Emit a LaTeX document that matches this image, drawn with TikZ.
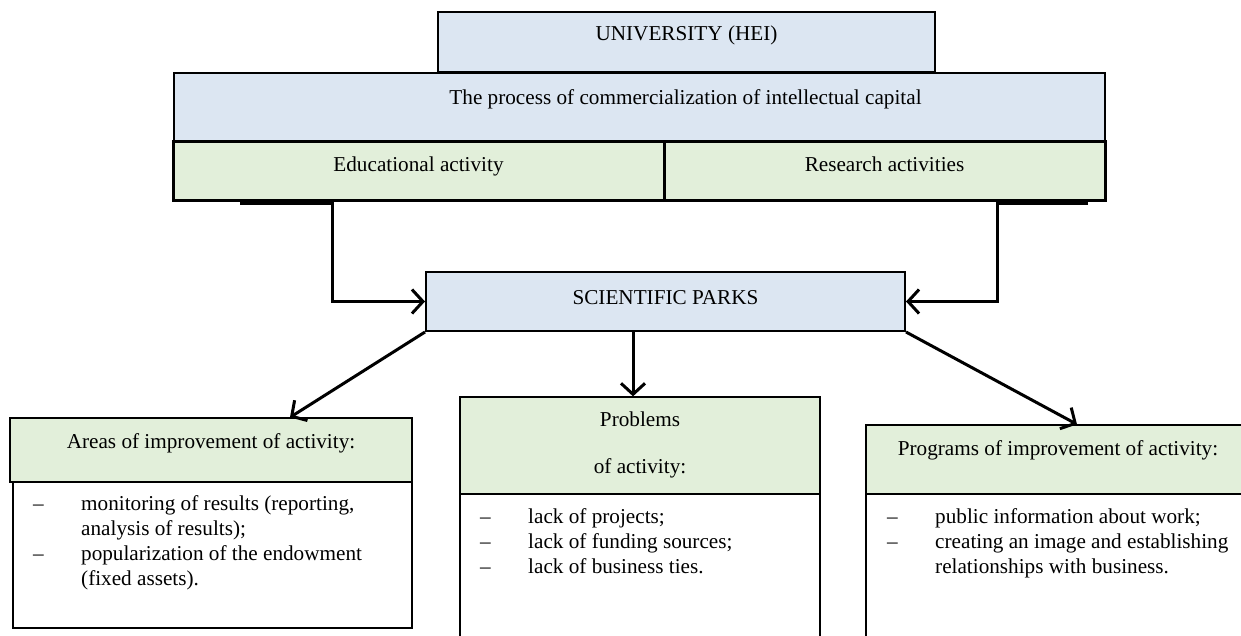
\documentclass[tikz,border=0pt]{standalone}
\usepackage{fontspec}
\setmainfont{Liberation Serif}
\usetikzlibrary{arrows.meta,calc}
\definecolor{lblue}{RGB}{220,230,242}
\definecolor{lgreen}{RGB}{226,239,218}
\begin{document}
\begin{tikzpicture}[x=1pt,y=-1pt,
  every node/.style={font=\fontsize{21.2}{25}\selectfont, inner sep=0pt},
  thinbox/.style={draw, line width=1.3pt, rectangle, align=center},
  thickbox/.style={draw, line width=3pt, rectangle, align=center, fill=lgreen},
  arr/.style={line width=3pt, -{Straight Barb[length=11pt,width=24pt]}},
  conn/.style={line width=3pt}
]
\useasboundingbox (0,0) rectangle (1241,635);
\clip (0,0) rectangle (1241,635);
% top
\node[thinbox, fill=lblue, minimum width=497pt, minimum height=60pt, text height=28pt, text depth=32pt] (uni) at (686.5,42) {UNIVERSITY (HEI)};
\node[thinbox, fill=lblue, minimum width=931pt, minimum height=68pt, text height=31pt, text depth=37pt] (proc) at (639.5,107) {\hspace*{92pt}The process of commercialization of intellectual capital};
\node[thickbox, minimum width=491pt, minimum height=59pt, text height=30pt, text depth=29pt] (edu) at (418.5,170.5) {Educational activity};
\node[thickbox, minimum width=441pt, minimum height=59pt, text height=30pt, text depth=29pt] (res) at (884.5,170.5) {Research activities};
% center
\node[draw, line width=2pt, fill=lblue, minimum width=479pt, minimum height=59pt, text height=32pt, text depth=27pt] (sp) at (665.5,301.5) {SCIENTIFIC PARKS};
% bottom boxes
\node[thinbox, fill=lgreen, minimum width=402pt, minimum height=64pt, text height=30pt, text depth=34pt] (lh) at (211,450) {Areas of improvement of activity:};
\node[thinbox, minimum width=399pt, minimum height=146pt] (lb) at (212.5,555) {};
\node[thinbox, fill=lgreen, minimum width=360pt, minimum height=97pt, text height=76pt, text depth=21pt] (mh) at (640,445.5) {Problems\\[22pt]of activity:};
\node[thinbox, minimum width=360pt, minimum height=151pt] (mb) at (640,569.5) {};
\node[thinbox, fill=lgreen, minimum width=384pt, minimum height=69pt, text height=30pt, text depth=39pt] (rh) at (1058,459.5) {Programs of improvement of activity:};
\node[thinbox, minimum width=384pt, minimum height=151pt] (rb) at (1058,569.5) {};
% body texts (anchored at the baseline of the last line)
\node[anchor=base west, align=left] (lt) at (33,585) {\makebox[48pt][l]{–}monitoring of results (reporting,\\\hspace*{48pt}analysis of results);\\\makebox[48pt][l]{–}popularization of the endowment\\\hspace*{48pt}(fixed assets).};
\node[anchor=base west, align=left] (mt) at (480,573) {\makebox[48pt][l]{–}lack of projects;\\\makebox[48pt][l]{–}lack of funding sources;\\\makebox[48pt][l]{–}lack of business ties.};
\node[anchor=base west, align=left] (rt) at (887,573) {\makebox[48pt][l]{–}public information about work;\\\makebox[48pt][l]{–}creating an image and establishing\\\hspace*{48pt}relationships with business.};
% connectors
\coordinate (e1) at (240,203);
\coordinate (e2) at (1088,203);
\coordinate (m) at (633,0);
\coordinate (l) at (290,0);
\coordinate (r) at (1077,0);
\draw[conn] (e1) -- (332,203);
\draw[arr] (332,201.5) |- (sp.west);
\draw[conn] (e2) -- (997,203);
\draw[arr] (997,201.5) |- (sp.east);
\draw[arr] (sp.south west) -- (lh.north -| l);
\draw[arr] (sp.south -| m) -- (mh.north -| m);
\draw[arr] (sp.south east) -- (rh.north -| r);
\end{tikzpicture}
\end{document}
